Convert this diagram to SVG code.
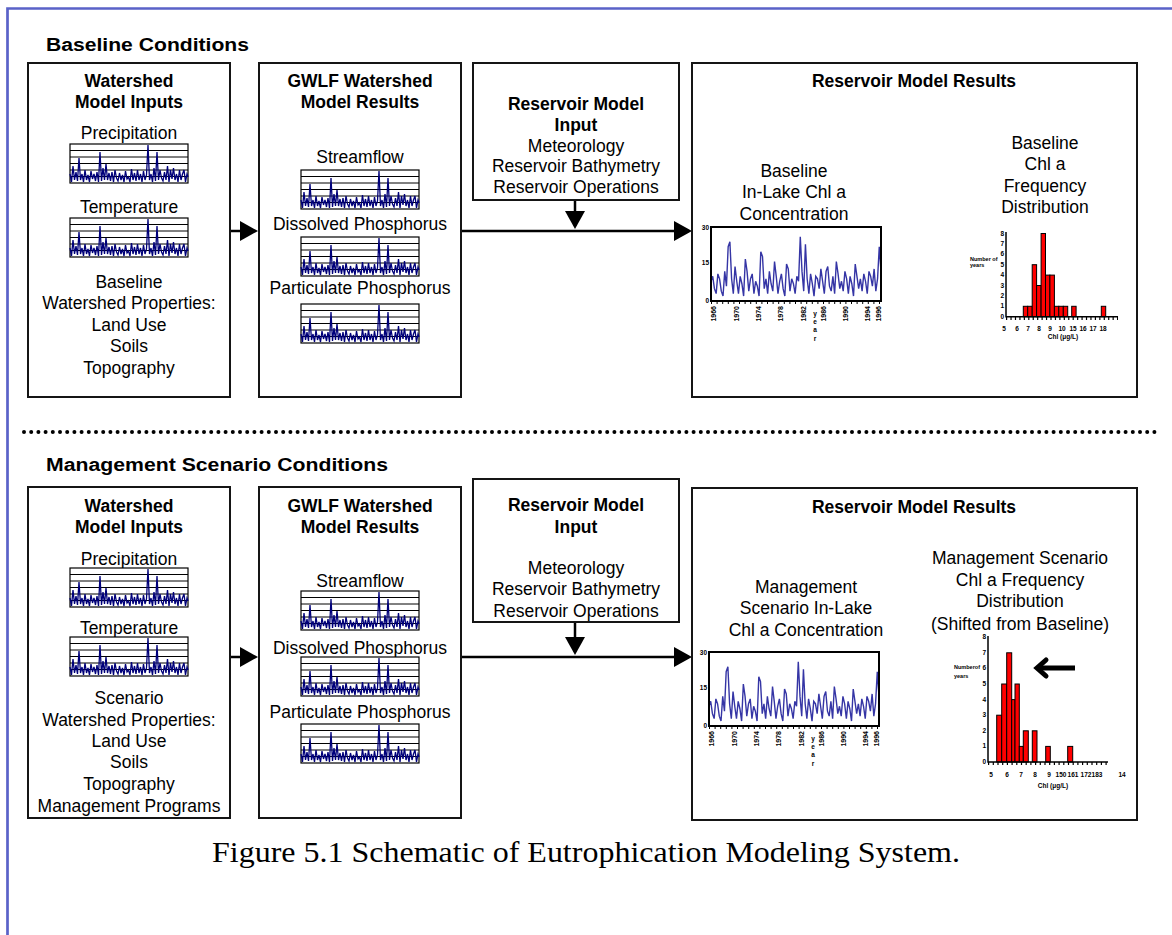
<svg xmlns="http://www.w3.org/2000/svg" xmlns:xlink="http://www.w3.org/1999/xlink" width="1172" height="935" viewBox="0 0 1172 935">
<style>
text{font-family:"Liberation Sans",Arial,sans-serif;fill:#000}
.t{font-size:17.5px;text-anchor:middle}
.b{font-size:17.5px;font-weight:bold;text-anchor:middle}
.h{font-size:18px;font-weight:bold}
.tn{font-size:5.5px;font-weight:bold}
.te{font-size:6.5px;font-weight:bold;text-anchor:end}
.ty{font-size:7px;font-weight:bold;text-anchor:end}
.tm{font-size:6.5px;font-weight:bold;text-anchor:middle}
.box{fill:#fff;stroke:#151515;stroke-width:2}
.con{stroke:#000;stroke-width:2.5;fill:none}
.bar{fill:#f00;stroke:#000;stroke-width:1}
.ax{stroke:#000;stroke-width:1.5;fill:none}
</style>
<defs>
<marker id="ah" markerUnits="userSpaceOnUse" markerWidth="18" markerHeight="20" refX="15" refY="10" orient="auto">
<path d="M0,0 L18,10 L0,20 Z" fill="#000"/>
</marker>
<g id="mini">
<rect x="0" y="0" width="118" height="39" fill="#fff" stroke="#000" stroke-width="1.2"/>
<path d="M0,6.5H118M0,13H118M0,19.5H118M0,26H118M0,32.5H118" stroke="#000" stroke-width="1"/>
<polyline fill="none" stroke="#00007a" stroke-width="1.3" points="0,30 1.5,38 3,22 4.5,36 6,28 7.5,37 9,14 10.5,36 12,30 13.5,38 15,26 16.5,36 18,31 19.5,38 21,27 22.5,35 24,30 25.5,37 27,28 28.5,38 30,8 31.5,37 33,24 34.5,36 36,20 37.5,36 39,29 40.5,37 42,28 43.5,38 45,26 46.5,34 48,37 49.5,29 51,36 52.5,31 54,38 55.5,27 57,35 58.5,33 60,38 61.5,25 63,36 64.5,29 66,37 67.5,26 69,36 70.5,30 72,38 73.5,27 75,36 76.5,31 78,1 79.5,36 81,30 82.5,38 84,24 85.5,37 87,8 88.5,36 90,26 91.5,34 93,37 94.5,28 96,36 97.5,22 99,38 100.5,26 102,35 103.5,24 105,36 106.5,30 108,38 109.5,26 111,36 112.5,30 114,26 115.5,38 117,30 118,33"/>
</g>
<g id="lc">
<polyline fill="none" stroke="#3535a5" stroke-width="1.4" vector-effect="non-scaling-stroke" transform="translate(0,74) scale(1.717,-2.467)" points="0,8 1,10 2,5 3,3 4,11 5,9 6,4 7,2 8,12 9,6 10,22 11,24 12,9 13,3 14,14 15,8 16,3 17,10 18,7 19,2 20,17 21,12 22,4 23,9 24,11 25,3 26,8 27,6 28,2 29,20 30,18 31,5 32,9 33,3 34,12 35,7 36,4 37,16 38,10 39,3 40,8 41,11 42,5 43,2 44,15 45,13 46,4 47,9 48,7 49,3 50,10 51,8 52,26 53,12 54,4 55,23 56,9 57,3 58,11 59,7 60,2 61,10 62,9 63,5 64,13 65,8 66,3 67,12 68,14 69,6 70,4 71,10 72,3 73,16 74,11 75,5 76,8 77,4 78,12 79,9 80,3 81,10 82,7 83,2 84,15 85,10 86,5 87,9 88,4 89,11 90,8 91,3 92,12 93,10 94,6 95,13 96,4 97,9 98,22 99,12"/>
<rect x="0" y="0" width="170" height="74" fill="none" stroke="#000" stroke-width="2"/>
<line x1="0" y1="76" x2="170" y2="76" stroke="#000" stroke-width="2" stroke-dasharray="1 4.6"/>
<text class="te" x="-2" y="3">30</text>
<text class="te" x="-2" y="38">15</text>
<text class="te" x="-2" y="76">0</text>
<text class="ty" transform="translate(5,79) rotate(-90)">1966</text>
<text class="ty" transform="translate(28,79) rotate(-90)">1970</text>
<text class="ty" transform="translate(50,79) rotate(-90)">1974</text>
<text class="ty" transform="translate(72,79) rotate(-90)">1978</text>
<text class="ty" transform="translate(95,79) rotate(-90)">1982</text>
<text class="ty" transform="translate(115,79) rotate(-90)">1986</text>
<text class="ty" transform="translate(137,79) rotate(-90)">1990</text>
<text class="ty" transform="translate(159,79) rotate(-90)">1994</text>
<text class="ty" transform="translate(170,79) rotate(-90)">1996</text>
<text class="tm" x="104" y="89">y</text>
<text class="tm" x="104" y="97">e</text>
<text class="tm" x="104" y="105">a</text>
<text class="tm" x="104" y="114">r</text>
</g>
</defs>
<rect width="1172" height="935" fill="#fff"/>
<path d="M7.5,935 V8.5 H1172" fill="none" stroke="#5a62c8" stroke-width="2.7"/>
<text class="h" x="46" y="51" textLength="203" lengthAdjust="spacingAndGlyphs">Baseline Conditions</text>
<line x1="24" y1="432" x2="1160" y2="432" stroke="#000" stroke-width="4" stroke-linecap="round" stroke-dasharray="0 7.2"/>
<text class="h" x="46" y="471" textLength="342" lengthAdjust="spacingAndGlyphs">Management Scenario Conditions</text>

<g id="connectors">
<line class="con" x1="226" y1="231" x2="255" y2="231" marker-end="url(#ah)"/>
<line class="con" x1="461" y1="231" x2="689" y2="231" marker-end="url(#ah)"/>
<line class="con" x1="575" y1="200" x2="575" y2="226" marker-end="url(#ah)"/>
<line class="con" x1="891" y1="267" x2="944" y2="267" marker-end="url(#ah)"/>
<line class="con" x1="226" y1="657" x2="255" y2="657" marker-end="url(#ah)"/>
<line class="con" x1="461" y1="657" x2="689" y2="657" marker-end="url(#ah)"/>
<line class="con" x1="575" y1="622" x2="575" y2="652" marker-end="url(#ah)"/>
<line class="con" x1="891" y1="692" x2="952" y2="692" marker-end="url(#ah)"/>
</g>

<g id="top-inputs">
<rect class="box" x="28" y="63" width="202" height="334"/>
<text class="b" x="129" y="87">Watershed</text>
<text class="b" x="129" y="108">Model Inputs</text>
<text class="t" x="129" y="139">Precipitation</text>
<use xlink:href="#mini" x="70" y="144"/>
<text class="t" x="129" y="213">Temperature</text>
<use xlink:href="#mini" x="70" y="218"/>
<text class="t" x="129" y="288">Baseline</text>
<text class="t" x="129" y="309">Watershed Properties:</text>
<text class="t" x="129" y="331">Land Use</text>
<text class="t" x="129" y="352">Soils</text>
<text class="t" x="129" y="374">Topography</text>
</g>
<g id="top-gwlf">
<rect class="box" x="259" y="63" width="202" height="334"/>
<text class="b" x="360" y="87">GWLF Watershed</text>
<text class="b" x="360" y="108">Model Results</text>
<text class="t" x="360" y="163">Streamflow</text>
<use xlink:href="#mini" x="301" y="170"/>
<text class="t" x="360" y="230">Dissolved Phosphorus</text>
<use xlink:href="#mini" x="301" y="237"/>
<text class="t" x="360" y="294">Particulate Phosphorus</text>
<use xlink:href="#mini" x="301" y="304"/>
</g>
<g id="top-resinput">
<rect class="box" x="473" y="63" width="206" height="137"/>
<text class="b" x="576" y="110">Reservoir Model</text>
<text class="b" x="576" y="131">Input</text>
<text class="t" x="576" y="152">Meteorology</text>
<text class="t" x="576" y="172">Reservoir Bathymetry</text>
<text class="t" x="576" y="193">Reservoir Operations</text>
</g>
<g id="top-results">
<rect class="box" x="692" y="63" width="445" height="334"/>
<text class="b" x="914" y="87">Reservoir Model Results</text>
<text class="t" x="794" y="177">Baseline</text>
<text class="t" x="794" y="198">In-Lake Chl a</text>
<text class="t" x="794" y="220">Concentration</text>
<use xlink:href="#lc" x="711" y="227"/>
<text class="t" x="1045" y="149">Baseline</text>
<text class="t" x="1045" y="170">Chl a</text>
<text class="t" x="1045" y="192">Frequency</text>
<text class="t" x="1045" y="213">Distribution</text>
<g id="top-hist">
<rect class="bar" x="1023.3" y="306.3" width="4.4" height="10.4"/>
<rect class="bar" x="1027.7" y="306.3" width="4.5" height="10.4"/>
<rect class="bar" x="1032.2" y="264.7" width="4.4" height="52"/>
<rect class="bar" x="1036.6" y="285.5" width="4.5" height="31.2"/>
<rect class="bar" x="1041.1" y="233.5" width="4.4" height="83.2"/>
<rect class="bar" x="1045.5" y="275.1" width="4.4" height="41.6"/>
<rect class="bar" x="1049.9" y="275.1" width="4.5" height="41.6"/>
<rect class="bar" x="1054.4" y="306.3" width="4.4" height="10.4"/>
<rect class="bar" x="1058.8" y="306.3" width="4.5" height="10.4"/>
<rect class="bar" x="1063.3" y="306.3" width="4.4" height="10.4"/>
<rect class="bar" x="1071.7" y="306.3" width="4.4" height="10.4"/>
<rect class="bar" x="1101.3" y="306.3" width="4.4" height="10.4"/>
<path class="ax" d="M1006,232 V316.7 H1118"/>
<line x1="1006" y1="318.5" x2="1118" y2="318.5" stroke="#000" stroke-width="3" stroke-dasharray="1.2 3.24"/>
<text class="te" x="1004" y="318.7">0</text>
<text class="te" x="1004" y="308.3">1</text>
<text class="te" x="1004" y="297.9">2</text>
<text class="te" x="1004" y="287.5">3</text>
<text class="te" x="1004" y="277.1">4</text>
<text class="te" x="1004" y="266.7">5</text>
<text class="te" x="1004" y="256.3">6</text>
<text class="te" x="1004" y="245.9">7</text>
<text class="te" x="1004" y="235.5">8</text>
<text class="tn" x="970" y="261">Number of</text>
<text class="tn" x="970" y="267">years</text>
<text class="tm" x="1004" y="331">5</text>
<text class="tm" x="1017" y="331">6</text>
<text class="tm" x="1028" y="331">7</text>
<text class="tm" x="1039" y="331">8</text>
<text class="tm" x="1050" y="331">9</text>
<text class="tm" x="1062" y="331">10</text>
<text class="tm" x="1073" y="331">15</text>
<text class="tm" x="1083" y="331">16</text>
<text class="tm" x="1093" y="331">17</text>
<text class="tm" x="1103" y="331">18</text>
<text class="tm" x="1063" y="339">Chl (μg/L)</text>
</g>
</g>

<g id="bot-inputs">
<rect class="box" x="28" y="487" width="202" height="331"/>
<text class="b" x="129" y="512">Watershed</text>
<text class="b" x="129" y="533">Model Inputs</text>
<text class="t" x="129" y="565">Precipitation</text>
<use xlink:href="#mini" x="70" y="568"/>
<text class="t" x="129" y="634">Temperature</text>
<use xlink:href="#mini" x="70" y="637"/>
<text class="t" x="129" y="704">Scenario</text>
<text class="t" x="129" y="726">Watershed Properties:</text>
<text class="t" x="129" y="747">Land Use</text>
<text class="t" x="129" y="768">Soils</text>
<text class="t" x="129" y="790">Topography</text>
<text class="t" x="129" y="812">Management Programs</text>
</g>
<g id="bot-gwlf">
<rect class="box" x="259" y="487" width="202" height="331"/>
<text class="b" x="360" y="512">GWLF Watershed</text>
<text class="b" x="360" y="533">Model Results</text>
<text class="t" x="360" y="587">Streamflow</text>
<use xlink:href="#mini" x="301" y="591"/>
<text class="t" x="360" y="654">Dissolved Phosphorus</text>
<use xlink:href="#mini" x="301" y="657"/>
<text class="t" x="360" y="718">Particulate Phosphorus</text>
<use xlink:href="#mini" x="301" y="724"/>
</g>
<g id="bot-resinput">
<rect class="box" x="473" y="479" width="206" height="143"/>
<text class="b" x="576" y="511">Reservoir Model</text>
<text class="b" x="576" y="533">Input</text>
<text class="t" x="576" y="574">Meteorology</text>
<text class="t" x="576" y="595">Reservoir Bathymetry</text>
<text class="t" x="576" y="617">Reservoir Operations</text>
</g>
<g id="bot-results">
<rect class="box" x="692" y="488" width="445" height="332"/>
<text class="b" x="914" y="513">Reservoir Model Results</text>
<text class="t" x="806" y="593">Management</text>
<text class="t" x="806" y="614">Scenario In-Lake</text>
<text class="t" x="806" y="636">Chl a Concentration</text>
<use xlink:href="#lc" x="709" y="652"/>
<text class="t" x="1020" y="564">Management Scenario</text>
<text class="t" x="1020" y="586">Chl a Frequency</text>
<text class="t" x="1020" y="607">Distribution</text>
<text class="t" x="1020" y="630">(Shifted from Baseline)</text>
<g id="bot-hist">
<rect class="bar" x="996.7" y="715.2" width="5" height="46.8"/>
<rect class="bar" x="1001.7" y="684" width="5" height="78"/>
<rect class="bar" x="1006.7" y="652.8" width="5" height="109.2"/>
<rect class="bar" x="1011.7" y="699.6" width="3.3" height="62.4"/>
<rect class="bar" x="1015" y="684" width="4.3" height="78"/>
<rect class="bar" x="1019.3" y="746.4" width="4" height="15.6"/>
<rect class="bar" x="1023.3" y="730.8" width="5" height="31.2"/>
<rect class="bar" x="1032.3" y="730.8" width="4.7" height="31.2"/>
<rect class="bar" x="1045.7" y="746.4" width="4.6" height="15.6"/>
<rect class="bar" x="1067.7" y="746.4" width="5" height="15.6"/>
<path class="ax" d="M988,636 V762 H1108"/>
<line x1="988" y1="763.5" x2="1108" y2="763.5" stroke="#000" stroke-width="3" stroke-dasharray="1.2 3.5"/>
<text class="te" x="986" y="764">0</text>
<text class="te" x="986" y="748.4">1</text>
<text class="te" x="986" y="732.8">2</text>
<text class="te" x="986" y="717.2">3</text>
<text class="te" x="986" y="701.6">4</text>
<text class="te" x="986" y="686">5</text>
<text class="te" x="986" y="670.4">6</text>
<text class="te" x="986" y="654.8">7</text>
<text class="te" x="986" y="639.2">8</text>
<text class="tn" x="954" y="669">Numberof</text>
<text class="tn" x="954" y="678">years</text>
<text class="tm" x="991" y="777">5</text>
<text class="tm" x="1007" y="777">6</text>
<text class="tm" x="1021" y="777">7</text>
<text class="tm" x="1035" y="777">8</text>
<text class="tm" x="1049" y="777">9</text>
<text class="tm" x="1061" y="777">150</text>
<text class="tm" x="1073" y="777">161</text>
<text class="tm" x="1086" y="777">172</text>
<text class="tm" x="1097" y="777">183</text>
<text class="tm" x="1122" y="777">14</text>
<text class="tm" x="1053" y="788">Chl (μg/L)</text>
<line x1="1039" y1="668" x2="1075" y2="668" stroke="#000" stroke-width="5"/>
<polyline points="1046,660 1037,668 1046,676" fill="none" stroke="#000" stroke-width="5" stroke-linecap="round" stroke-linejoin="miter"/>
</g>
</g>

<text x="212" y="862" textLength="748" lengthAdjust="spacingAndGlyphs" style="font-family:'Liberation Serif','Times New Roman',serif;font-size:29px">Figure 5.1  Schematic of Eutrophication Modeling System.</text>
</svg>
